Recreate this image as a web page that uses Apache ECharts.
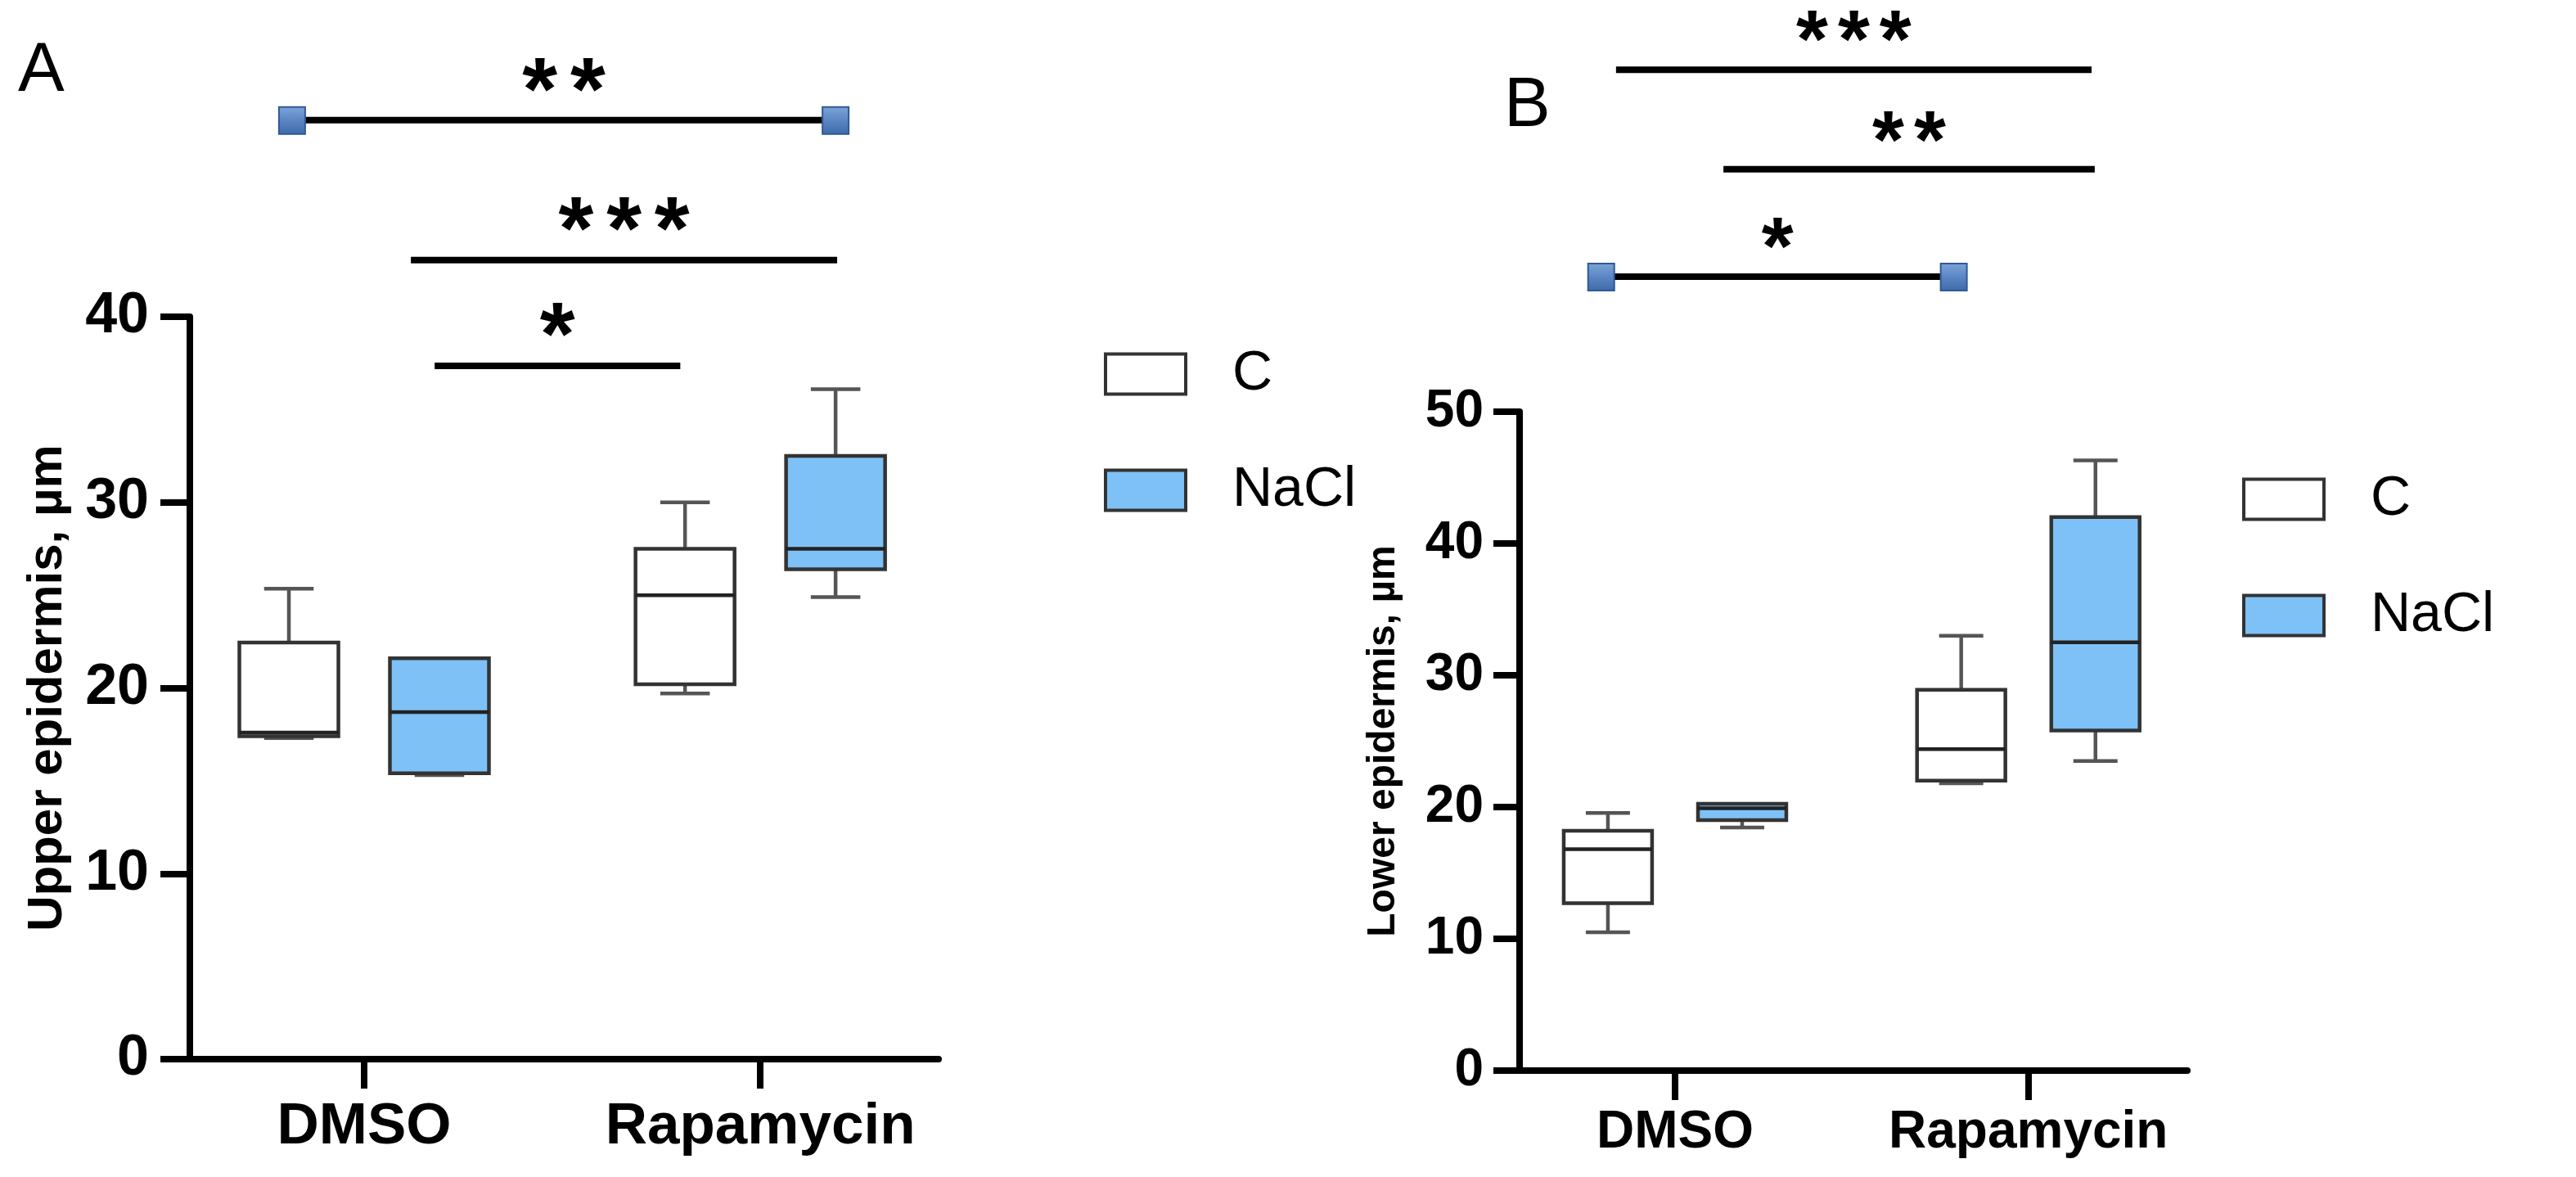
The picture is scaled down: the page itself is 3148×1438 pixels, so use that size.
<!DOCTYPE html>
<html>
<head>
<meta charset="utf-8">
<script src="https://cdn.jsdelivr.net/npm/echarts@6/dist/echarts.min.js"></script>
<style>
html,body{margin:0;padding:0;background:#fff;}
#c{width:3148px;height:1438px;}
</style>
</head>
<body>
<div id="c"></div>
<script>
// ---------- data ----------
const categories = ['DMSO', 'Rapamycin'];
const groupNames = ['C', 'NaCl'];
// box stats: [min, Q1, median, Q3, max] per category
const upperC    = [[17.3, 17.4, 17.6, 22.45, 25.35], [19.7, 20.2, 25.0, 27.5, 30.0]];
const upperNaCl = [[15.3, 15.4, 18.7, 21.6, 21.6],   [24.9, 26.4, 27.5, 32.5, 36.1]];
const lowerC    = [[10.5, 12.7, 16.8, 18.2, 19.55],  [21.8, 22.0, 24.4, 28.9, 33.0]];
const lowerNaCl = [[18.45, 19.0, 19.9, 20.25, 20.25],[23.5, 25.8, 32.5, 42.0, 46.3]];
const yTicksA = [0, 10, 20, 30, 40];
const yTicksB = [0, 10, 20, 30, 40, 50];
// significance brackets (x in category units, y in axis units)
const sigALabels = ['**', '***', '*'];
const sigAFrom   = [0.818, 1.118, 1.178];
const sigATo     = [2.19, 2.194, 1.798];
const sigALineY  = [50.6, 43.05, 37.35];
const sigAStarY  = [53.05, 45.55, 39.85];
const sigAMarker = [true, false, false];
const sigBLabels = ['***', '**', '*'];
const sigBFrom   = [0.833, 1.137, 0.791];
const sigBTo     = [2.179, 2.188, 1.789];
const sigBLineY  = [75.95, 68.4, 60.25];
const sigBStarY  = [79.2, 71.6, 63.5];
const sigBMarker = [false, false, true];

// ---------- style ----------
const FONT = 'Liberation Sans';
const BLUE = '#7EC1F7';
const GROUP_OFFSET = 0.19;
const BOX_W = 0.25;

function boxData(stats, offset) {
  return stats.map((s, i) => [i + 1 + offset].concat(s));
}

function boxRender(fill) {
  return function (params, api) {
    const x = api.value(0);
    const pMin = api.coord([x, api.value(1)]);
    const yQ1 = api.coord([x, api.value(2)])[1];
    const yMed = api.coord([x, api.value(3)])[1];
    const yQ3 = api.coord([x, api.value(4)])[1];
    const yMax = api.coord([x, api.value(5)])[1];
    const xc = pMin[0], yMin = pMin[1];
    const w = api.size([BOX_W, 0])[0];
    const cw = w / 2;
    const wh = {stroke: '#555', lineWidth: 4.5};
    const children = [];
    if (yMax < yQ3 - 1) {
      children.push({type: 'line', shape: {x1: xc, y1: yMax, x2: xc, y2: yQ3}, style: wh});
      children.push({type: 'line', shape: {x1: xc - cw / 2, y1: yMax, x2: xc + cw / 2, y2: yMax}, style: wh});
    }
    if (yMin > yQ1 + 1) {
      children.push({type: 'line', shape: {x1: xc, y1: yQ1, x2: xc, y2: yMin}, style: wh});
      children.push({type: 'line', shape: {x1: xc - cw / 2, y1: yMin, x2: xc + cw / 2, y2: yMin}, style: wh});
    }
    children.push({type: 'rect', shape: {x: xc - w / 2, y: yQ3, width: w, height: yQ1 - yQ3},
      style: {fill: fill, stroke: '#333', lineWidth: 4.5}});
    children.push({type: 'line', shape: {x1: xc - w / 2, y1: yMed, x2: xc + w / 2, y2: yMed},
      style: {stroke: '#222', lineWidth: 4.5}});
    return {type: 'group', children: children};
  };
}

function starText(label, size, gap) {
  const parts = label.split('').map(() => '{s|*}');
  return {
    text: parts.join('{g| }'),
    rich: {
      s: {fontSize: size, fontWeight: 'bold', fontFamily: FONT, fill: '#000', color: '#000'},
      g: {fontSize: gap, fontFamily: FONT}
    }
  };
}

function sigRender(labels, markers, starSize, gapSize) {
  return function (params, api) {
    const i = params.dataIndex;
    const p1 = api.coord([api.value(0), api.value(1)]);
    const p2 = api.coord([api.value(2), api.value(1)]);
    const ps = api.coord([(api.value(0) + api.value(2)) / 2, api.value(3)]);
    const children = [
      {type: 'line', shape: {x1: p1[0], y1: p1[1], x2: p2[0], y2: p2[1]}, style: {stroke: '#000', lineWidth: 8}}
    ];
    if (markers[i]) {
      [p1, p2].forEach(p => {
        children.push({type: 'rect', shape: {x: p[0] - 16, y: p[1] - 16, width: 32, height: 33},
          style: {
            fill: new echarts.graphic.LinearGradient(0, 0, 0, 1, [
              {offset: 0, color: '#7FA5D8'}, {offset: 0.5, color: '#5A86C4'}, {offset: 1, color: '#3E69A8'}]),
            stroke: '#2F5A96', lineWidth: 2
          }});
      });
    }
    const st = starText(labels[i], starSize, gapSize);
    children.push({type: 'text', x: ps[0], y: ps[1] + starSize * 0.22,
      style: Object.assign(st, {align: 'center', verticalAlign: 'middle'})});
    return {type: 'group', children: children};
  };
}

function sigData(from, to, lineY, starY) {
  return from.map((f, i) => [f, lineY[i], to[i], starY[i]]);
}

function xAxisCfg(gridIndex, fontSize, margin) {
  return {
    type: 'value', gridIndex: gridIndex, min: 0.56, max: 2.45,
    axisLine: {show: true, lineStyle: {color: '#000', width: 8}},
    axisTick: {show: true, customValues: [1, 2], length: 36, lineStyle: {color: '#000', width: 8}},
    axisLabel: {show: true, customValues: [1, 2], formatter: v => categories[Math.round(v) - 1] || '',
      fontSize: fontSize, fontWeight: 'bold', fontFamily: FONT, color: '#000', margin: margin},
    splitLine: {show: false}
  };
}

function yAxisCfg(gridIndex, max, name, fontSize, margin, tickLen, nameSize, nameGap) {
  return {
    type: 'value', gridIndex: gridIndex, min: 0, max: max, interval: 10,
    axisLine: {show: true, lineStyle: {color: '#000', width: 8}},
    axisTick: {show: true, length: tickLen, lineStyle: {color: '#000', width: 8}},
    axisLabel: {show: true, fontSize: fontSize, fontWeight: 'bold', fontFamily: FONT, color: '#000', margin: margin},
    splitLine: {show: false},
    name: name, nameLocation: 'middle', nameRotate: 90, nameGap: nameGap,
    nameTextStyle: {fontSize: nameSize, fontWeight: 'bold', fontFamily: FONT, color: '#000'}
  };
}

function legendCfg(left, top) {
  return {
    left: left, top: top, orient: 'vertical', padding: 0,
    itemWidth: 98, itemHeight: 49, itemGap: 74, icon: 'rect', selectedMode: false,
    data: [
      {name: groupNames[0], itemStyle: {color: '#fff', borderColor: '#333', borderWidth: 4}},
      {name: groupNames[1], itemStyle: {color: BLUE, borderColor: '#333', borderWidth: 4}}
    ],
    textStyle: {fontSize: 68, fontFamily: FONT, color: '#000', lineHeight: 49, padding: [0, 0, 0, 52]}
  };
}

const chart = echarts.init(document.getElementById('c'), null, {renderer: 'canvas'});
chart.setOption({
  backgroundColor: '#fff',
  animation: false,
  graphic: [
    {type: 'text', left: 22, top: 45, style: {text: 'A', fontSize: 85, fontFamily: FONT, fill: '#000'}},
    {type: 'text', left: 1838, top: 88, style: {text: 'B', fontSize: 85, fontFamily: FONT, fill: '#000'}}
  ],
  grid: [
    {left: 232, top: 387, width: 915, height: 907},
    {left: 1857, top: 503, width: 816, height: 805}
  ],
  xAxis: [xAxisCfg(0, 71, 48), xAxisCfg(1, 64, 44)],
  yAxis: [
    yAxisCfg(0, 40, 'Upper epidermis, µm', 70, 50, 36, 60, 144),
    yAxisCfg(1, 50, 'Lower epidermis, µm', 64, 44, 32, 48, 142)
  ],
  legend: [legendCfg(1349, 423), legendCfg(2740, 576)],
  series: [
    {type: 'custom', name: groupNames[0], xAxisIndex: 0, yAxisIndex: 0, data: boxData(upperC, -GROUP_OFFSET),
      renderItem: boxRender('#fff'), itemStyle: {color: '#fff'}, encode: {x: 0, y: [1, 2, 3, 4, 5]}},
    {type: 'custom', name: groupNames[1], xAxisIndex: 0, yAxisIndex: 0, data: boxData(upperNaCl, GROUP_OFFSET),
      renderItem: boxRender(BLUE), itemStyle: {color: BLUE}, encode: {x: 0, y: [1, 2, 3, 4, 5]}},
    {type: 'custom', name: groupNames[0], xAxisIndex: 1, yAxisIndex: 1, data: boxData(lowerC, -GROUP_OFFSET),
      renderItem: boxRender('#fff'), itemStyle: {color: '#fff'}, encode: {x: 0, y: [1, 2, 3, 4, 5]}},
    {type: 'custom', name: groupNames[1], xAxisIndex: 1, yAxisIndex: 1, data: boxData(lowerNaCl, GROUP_OFFSET),
      renderItem: boxRender(BLUE), itemStyle: {color: BLUE}, encode: {x: 0, y: [1, 2, 3, 4, 5]}},
    {type: 'custom', name: 'sigA', xAxisIndex: 0, yAxisIndex: 0, clip: false,
      data: sigData(sigAFrom, sigATo, sigALineY, sigAStarY),
      renderItem: sigRender(sigALabels, sigAMarker, 110, 57), encode: {x: [0, 2], y: [1, 3]}},
    {type: 'custom', name: 'sigB', xAxisIndex: 1, yAxisIndex: 1, clip: false,
      data: sigData(sigBFrom, sigBTo, sigBLineY, sigBStarY),
      renderItem: sigRender(sigBLabels, sigBMarker, 100, 43), encode: {x: [0, 2], y: [1, 3]}}
  ]
});
</script>
</body>
</html>
